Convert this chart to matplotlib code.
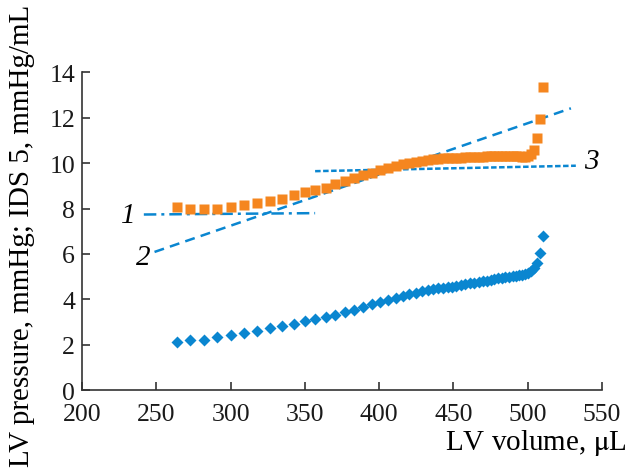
import matplotlib
matplotlib.use("Agg")
import matplotlib.pyplot as plt

plt.rcParams["font.family"] = ["Liberation Serif", "DejaVu Serif"]
plt.rcParams["mathtext.fontset"] = "stix"

# LV volume, uL (shared by both series)
volume = [263.8, 272.8, 281.8, 291.0, 300.2, 309.2, 317.6, 326.2, 334.7, 342.5,
          349.8, 356.9, 364.1, 370.3, 377.1, 383.1, 389.2, 395.0, 400.6, 406.2,
          411.4, 415.8, 420.3, 424.8, 429.1, 432.6, 436.5, 439.8, 443.2, 446.1,
          449.0, 452.0, 455.0, 458.0, 461.0, 464.0, 467.0, 470.0, 472.5, 475.0,
          477.5, 480.0, 482.5, 485.0, 487.5, 490.0, 492.0, 494.0, 496.0, 498.0,
          500.0, 502.0, 504.0, 506.0, 508.0, 510.0]

# LV pressure, mmHg (orange squares)
pressure = [8.08, 8.00, 8.00, 8.00, 8.08, 8.15, 8.24, 8.32, 8.44, 8.59,
            8.71, 8.80, 8.93, 9.08, 9.21, 9.33, 9.46, 9.58, 9.70, 9.80,
            9.88, 9.95, 10.02, 10.07, 10.11, 10.14, 10.17, 10.19, 10.21, 10.22,
            10.23, 10.24, 10.25, 10.26, 10.27, 10.28, 10.28, 10.29, 10.30, 10.30,
            10.30, 10.30, 10.31, 10.31, 10.31, 10.31, 10.30, 10.30, 10.29, 10.29,
            10.30, 10.42, 10.60, 11.10, 11.95, 13.35]

# IDS 5, mmHg/mL (blue diamonds)
ids5 = [2.13, 2.20, 2.23, 2.32, 2.43, 2.52, 2.62, 2.73, 2.83, 2.93,
        3.04, 3.14, 3.24, 3.33, 3.46, 3.55, 3.67, 3.78, 3.87, 3.98,
        4.08, 4.13, 4.22, 4.28, 4.36, 4.40, 4.45, 4.48, 4.51, 4.53,
        4.56, 4.59, 4.63, 4.67, 4.71, 4.74, 4.77, 4.80, 4.83, 4.86,
        4.89, 4.92, 4.95, 4.98, 5.00, 5.03, 5.05, 5.07, 5.09, 5.12,
        5.17, 5.25, 5.38, 5.62, 6.05, 6.80]

# fitted lines 1, 2, 3: (x0, x1), (y0, y1)
line1_x, line1_y = [241.6, 356.9], [7.74, 7.80]
line2_x, line2_y = [248.8, 529.1], [6.09, 12.42]
line3_x, line3_y = [356.9, 532.4], [9.65, 9.89]

orange = "#f5861f"
blue = "#0a86d0"

fig = plt.figure(figsize=(6.31, 4.77), dpi=100)
ax = fig.add_axes([0.130, 0.180, 0.824, 0.666])

ax.plot(line1_x, line1_y, color=blue, lw=1.8, dashes=(5, 2, 1.2, 2))
ax.plot(line2_x, line2_y, color=blue, lw=1.8, dashes=(4, 2.5))
ax.plot(line3_x, line3_y, color=blue, lw=1.8, dashes=(2.2, 1))

ax.plot(volume, pressure, ls="none", marker="s", ms=7.8, color=orange, mec="none")
ax.plot(volume, ids5, ls="none", marker="D", ms=5.8, color=blue, mec="none")

ax.text(236, 7.72, "1", style="italic", fontsize=21, ha="right", va="center")
ax.text(246, 5.85, "2", style="italic", fontsize=21, ha="right", va="center")
ax.text(538, 10.12, "3", style="italic", fontsize=21, ha="left", va="center")

ax.set_xlim(200, 550)
ax.set_ylim(0, 14)
ax.set_xticks(range(200, 551, 50))
ax.set_yticks(range(0, 15, 2))
ax.spines["top"].set_visible(False)
ax.spines["right"].set_visible(False)
for s in ("left", "bottom"):
    ax.spines[s].set_linewidth(1.2)
    ax.spines[s].set_color("#333333")
ax.tick_params(direction="in", length=6, width=1.2, labelsize=18.5,
               colors="#333333", labelcolor="#1a1a1a")
ax.tick_params(axis="x", pad=9)
ax.tick_params(axis="y", pad=5)

fig.text(0.992, 0.072, "LV volume, $\\mathrm{\\mu}$L", fontsize=21, ha="right", va="center")
fig.text(0.035, 0.505, "LV pressure, mmHg; IDS 5, mmHg/mL", fontsize=21,
         rotation=90, ha="center", va="center")

fig.savefig("out.png", dpi=100)
